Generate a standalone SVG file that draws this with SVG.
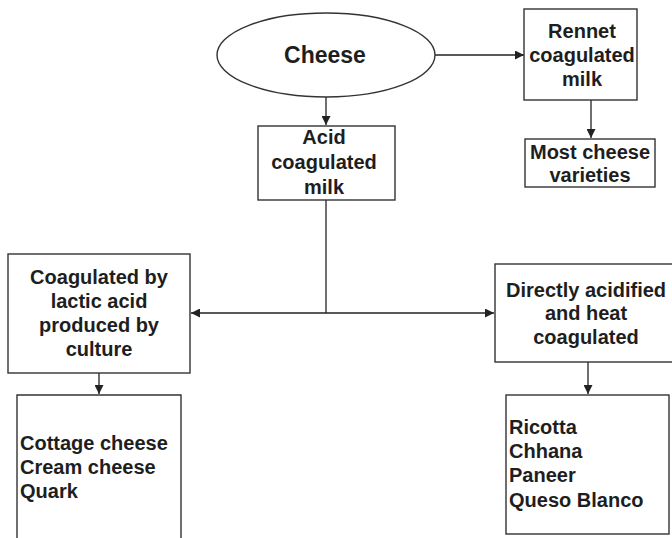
<svg xmlns="http://www.w3.org/2000/svg" width="672" height="538" viewBox="0 0 672 538">
  <style>
    .box { fill: #ffffff; stroke: #333333; stroke-width: 1.4; }
    .wire { fill: none; stroke: #222222; stroke-width: 1.3; }
    text { font-family: "Liberation Sans", Arial, sans-serif; font-weight: bold; font-size: 20px; fill: #1e1e1e; }
    .c { text-anchor: middle; }
    .l { text-anchor: start; }
  </style>
  <defs>
    <marker id="arrow" viewBox="0 0 10 10" refX="10" refY="5" markerWidth="9" markerHeight="9" markerUnits="userSpaceOnUse" orient="auto-start-reverse">
      <path d="M0,0 L10,5 L0,10 Z" fill="#222222"/>
    </marker>
  </defs>

  <rect width="672" height="538" fill="#ffffff"/>

  <!-- connectors -->
  <g id="connectors">
    <line class="wire" x1="435" y1="55" x2="524" y2="55" marker-end="url(#arrow)"/>
    <line class="wire" x1="326" y1="97" x2="326" y2="125" marker-end="url(#arrow)"/>
    <line class="wire" x1="591" y1="100" x2="591" y2="138" marker-end="url(#arrow)"/>
    <line class="wire" x1="326" y1="200" x2="326" y2="313"/>
    <line class="wire" x1="191" y1="313" x2="494" y2="313" marker-start="url(#arrow)" marker-end="url(#arrow)"/>
    <line class="wire" x1="99" y1="373" x2="99" y2="394" marker-end="url(#arrow)"/>
    <line class="wire" x1="588" y1="362" x2="588" y2="394" marker-end="url(#arrow)"/>
  </g>

  <g id="cheese">
    <ellipse class="box" cx="326" cy="55" rx="109" ry="42"/>
    <text class="c" x="325" y="63" style="font-size:23px">Cheese</text>
  </g>

  <g id="rennet">
    <rect class="box" x="524" y="9" width="113" height="91"/>
    <text class="c" x="582" y="38">Rennet</text>
    <text class="c" x="582" y="62">coagulated</text>
    <text class="c" x="582" y="86">milk</text>
  </g>

  <g id="most-cheese">
    <rect class="box" x="525" y="139" width="130" height="48"/>
    <text class="c" x="590" y="159">Most cheese</text>
    <text class="c" x="590" y="182">varieties</text>
  </g>

  <g id="acid">
    <rect class="box" x="258" y="126" width="137" height="74"/>
    <text class="c" x="324" y="144">Acid</text>
    <text class="c" x="324" y="169">coagulated</text>
    <text class="c" x="324" y="194">milk</text>
  </g>

  <g id="lactic">
    <rect class="box" x="8" y="254" width="182" height="119"/>
    <text class="c" x="99" y="284">Coagulated by</text>
    <text class="c" x="99" y="308">lactic acid</text>
    <text class="c" x="99" y="332">produced by</text>
    <text class="c" x="99" y="356">culture</text>
  </g>

  <g id="direct">
    <rect class="box" x="495" y="264" width="180" height="98"/>
    <text class="c" x="586" y="297">Directly acidified</text>
    <text class="c" x="586" y="320">and heat</text>
    <text class="c" x="586" y="344">coagulated</text>
  </g>

  <g id="lactic-varieties">
    <path class="box" d="M17,542 V395 H181 V542"/>
    <text class="l" x="20" y="450">Cottage cheese</text>
    <text class="l" x="20" y="474">Cream cheese</text>
    <text class="l" x="20" y="498">Quark</text>
  </g>

  <g id="direct-varieties">
    <rect class="box" x="506" y="395" width="163" height="139"/>
    <text class="l" x="509" y="434">Ricotta</text>
    <text class="l" x="509" y="458">Chhana</text>
    <text class="l" x="509" y="482">Paneer</text>
    <text class="l" x="509" y="507">Queso Blanco</text>
  </g>
</svg>
